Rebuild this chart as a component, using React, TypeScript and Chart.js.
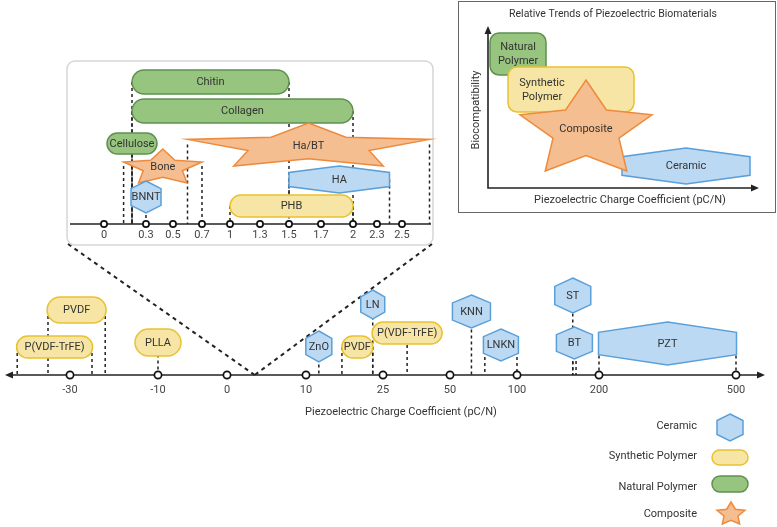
import React, { useEffect, useRef } from "react";
import { Chart, registerables } from "chart.js";

Chart.register(...registerables);

// ---------------- DATA ----------------
// Main axis (piezoelectric charge coefficient, pC/N)
const mainTickValues = [-30, -10, 0, 10, 25, 50, 100, 200, 500];
const mainTickLabels = ["-30", "-10", "0", "10", "25", "50", "100", "200", "500"];
const mainAxisTitle = "Piezoelectric Charge Coefficient (pC/N)";

const mainNames = ["P(VDF-TrFE)", "PVDF", "PLLA", "ZnO", "PVDF", "LN", "P(VDF-TrFE)", "KNN", "LNKN", "ST", "BT", "PZT"];
const mainTypes = ["synthetic", "synthetic", "synthetic", "ceramic", "synthetic", "ceramic", "synthetic", "ceramic", "ceramic", "ceramic", "ceramic", "ceramic"];
const mainLow = [-42, -35, -10, 12.5, 17, 23, 34, 66, 76, 168, 168, 200];
const mainHigh = [-25, -22, -10, 12.5, 23, 23, 34, 66, 100, 168, 172, 500];

// Zoomed inset (0 .. ~3 pC/N)
const insetTickValues = [0, 0.3, 0.5, 0.7, 1, 1.3, 1.5, 1.7, 2, 2.3, 2.5];
const insetTickLabels = ["0", "0.3", "0.5", "0.7", "1", "1.3", "1.5", "1.7", "2", "2.3", "2.5"];
const insetNames = ["Chitin", "Collagen", "Cellulose", "Ha/BT", "Bone", "HA", "BNNT", "PHB"];
const insetTypes = ["natural", "natural", "natural", "composite", "composite", "ceramic", "ceramic", "synthetic"];
const insetLow = [0.2, 0.2, 0.2, 0.6, 0.14, 1.5, 0.3, 1];
const insetHigh = [1.5, 2, 0.2, 2.72, 0.7, 2.4, 0.3, 2];
const insetZoomEnd = 3.5; // where the zoom funnel meets the main axis

// Legend
const legendTypes = ["ceramic", "synthetic", "natural", "composite"];
const legendLabels = ["Ceramic", "Synthetic Polymer", "Natural Polymer", "Composite"];

// Relative trends panel
const trendTitle = "Relative Trends of Piezoelectric Biomaterials";
const trendXTitle = "Piezoelectric Charge Coefficient (pC/N)";
const trendYTitle = "Biocompatibility";
const trendTypes = ["natural", "synthetic", "ceramic", "composite"];
const trendLabels = [["Natural", "Polymer"], ["Synthetic", "Polymer"], ["Ceramic"], ["Composite"]];

// ---------------- LAYOUT (stage units) ----------------
const STAGE_W = 777;
const STAGE_H = 527;
const mainAxisLayout = { y: 375, x0: 5, x1: 765, labelY: 390, titleY: 412, titleX: 401 };
const mainTickPos = [70, 158, 227, 306, 383, 450, 517, 599, 736];
const mainRows = [[336, 358], [297, 323], [329, 356], [331, 362], [336, 358], [290, 319], [322, 344], [295, 328], [329, 361], [278, 313], [327, 359], [322, 365]];
const mainMinW = [76, 59, 46, 26, 31, 24, 70, 38, 35, 36, 36, 138];

const insetBox = { x0: 67, y0: 61, x1: 433, y1: 245, axisY: 224, ax0: 70, ax1: 431, labelY: 235 };
const insetTickPos = [104, 146, 173, 202, 230, 260, 289, 321, 353, 377, 402];
const insetRows = [[70, 94], [99, 123], [133, 154], [123, 166], [149, 183], [166, 193], [181, 213], [195, 217]];
const insetMinW = [0, 0, 50, 0, 0, 0, 30, 0];

const trendBox = { x0: 458.5, y0: 1.5, x1: 775.5, y1: 212.5, ox: 488, oy: 188, yTop: 26, xRight: 759 };
const trendShapes = [[490, 33, 546, 75], [508, 67, 634, 112], [622, 148, 750, 184], [520, 80, 652, 171]];
const trendText = [[518, 47], [542, 83], [686, 166], [586, 129]];

const legendTextX = 697;
const legendRowsY = [426, 456, 487, 514];
const legendShapes = [[717, 414, 743, 441], [712, 450, 748, 465], [712, 476, 748, 492], [717, 502, 745, 524]];

const STYLE: Record<string, { fill: string; stroke: string; shape: string }> = {
  ceramic: { fill: "#bcd9f3", stroke: "#5b9fd8", shape: "hex" },
  synthetic: { fill: "#f6e5a5", stroke: "#e8c233", shape: "pill" },
  natural: { fill: "#97c47f", stroke: "#5e9150", shape: "pill" },
  composite: { fill: "#f5be91", stroke: "#ee8a3c", shape: "star" },
};
const FONT = "Roboto, 'Noto Sans', sans-serif";
const TEXT = "#333333";

function interp(v: number, vals: number[], pos: number[]): number {
  const n = vals.length;
  if (v <= vals[0]) return pos[0] + (v - vals[0]) * (pos[1] - pos[0]) / (vals[1] - vals[0]);
  if (v >= vals[n - 1]) return pos[n - 1] + (v - vals[n - 1]) * (pos[n - 1] - pos[n - 2]) / (vals[n - 1] - vals[n - 2]);
  for (let i = 0; i < n - 1; i++) {
    if (v <= vals[i + 1]) return pos[i] + (v - vals[i]) / (vals[i + 1] - vals[i]) * (pos[i + 1] - pos[i]);
  }
  return pos[n - 1];
}

function shapePath(ctx: CanvasRenderingContext2D, shape: string, x0: number, y0: number, x1: number, y1: number, radius?: number) {
  const w = x1 - x0, h = y1 - y0, cx = (x0 + x1) / 2;
  ctx.beginPath();
  if (shape === "pill" || shape === "rect") {
    const r = radius !== undefined ? radius : h / 2;
    (ctx as any).roundRect(x0, y0, w, h, Math.min(r, w / 2, h / 2));
  } else if (shape === "hex") {
    const s = h * 0.24;
    ctx.moveTo(cx, y0);
    ctx.lineTo(x1, y0 + s);
    ctx.lineTo(x1, y1 - s);
    ctx.lineTo(cx, y1);
    ctx.lineTo(x0, y1 - s);
    ctx.lineTo(x0, y0 + s);
    ctx.closePath();
  } else {
    const inner = 0.5;
    for (let i = 0; i < 10; i++) {
      const a = -Math.PI / 2 + i * Math.PI / 5;
      const r = i % 2 === 0 ? 1 : inner;
      const px = r * Math.cos(a), py = r * Math.sin(a);
      const X = x0 + (px + 0.9511) / 1.9022 * w;
      const Y = y0 + (py + 1) / 1.809 * h;
      if (i === 0) ctx.moveTo(X, Y); else ctx.lineTo(X, Y);
    }
    ctx.closePath();
  }
}

function drawShape(ctx: CanvasRenderingContext2D, type: string, x0: number, y0: number, x1: number, y1: number, radius?: number) {
  const st = STYLE[type];
  const shape = radius !== undefined && st.shape === "pill" ? "rect" : st.shape;
  shapePath(ctx, shape, x0, y0, x1, y1, radius);
  ctx.fillStyle = st.fill;
  ctx.fill();
  ctx.lineWidth = 1.5;
  ctx.strokeStyle = st.stroke;
  ctx.lineJoin = "miter";
  ctx.stroke();
}

function text(ctx: CanvasRenderingContext2D, s: string, x: number, y: number, size = 11, align: CanvasTextAlign = "center", color = TEXT) {
  ctx.font = `${size}px ${FONT}`;
  ctx.fillStyle = color;
  ctx.textAlign = align;
  ctx.textBaseline = "middle";
  ctx.fillText(s, x, y);
}

function dashed(ctx: CanvasRenderingContext2D, xa: number, ya: number, xb: number, yb: number, dash = [3, 3], lw = 1.5) {
  ctx.save();
  ctx.setLineDash(dash);
  ctx.lineWidth = lw;
  ctx.strokeStyle = "#222";
  ctx.beginPath();
  ctx.moveTo(xa, ya);
  ctx.lineTo(xb, yb);
  ctx.stroke();
  ctx.restore();
}

function arrowHead(ctx: CanvasRenderingContext2D, x: number, y: number, dir: string) {
  ctx.beginPath();
  const L = 8, W = 3.5;
  if (dir === "left") { ctx.moveTo(x, y); ctx.lineTo(x + L, y - W); ctx.lineTo(x + L, y + W); }
  if (dir === "right") { ctx.moveTo(x, y); ctx.lineTo(x - L, y - W); ctx.lineTo(x - L, y + W); }
  if (dir === "up") { ctx.moveTo(x, y); ctx.lineTo(x - W, y + L); ctx.lineTo(x + W, y + L); }
  ctx.closePath();
  ctx.fillStyle = "#222";
  ctx.fill();
}

function tickCircle(ctx: CanvasRenderingContext2D, x: number, y: number, r: number) {
  ctx.beginPath();
  ctx.arc(x, y, r, 0, Math.PI * 2);
  ctx.fillStyle = "#fff";
  ctx.fill();
  ctx.lineWidth = 1.7;
  ctx.strokeStyle = "#111";
  ctx.stroke();
}

const diagramPlugin = {
  id: "diagram",
  afterDraw(chart: any) {
    const ctx: CanvasRenderingContext2D = chart.ctx;
    const sx = chart.scales.x, sy = chart.scales.y;
    const X = (v: number) => sx.getPixelForValue(v);
    const Y = (v: number) => sy.getPixelForValue(v);
    const mainX = (v: number) => X(interp(v, mainTickValues, mainTickPos));
    const insetX = (v: number) => X(interp(v, insetTickValues, insetTickPos));
    ctx.save();

    // background
    ctx.fillStyle = "#fff";
    ctx.fillRect(0, 0, chart.width, chart.height);

    // ---- zoom funnel ----
    const meetX = mainX(insetZoomEnd);
    dashed(ctx, X(insetBox.x0 + 1), Y(insetBox.y1 - 1), meetX, Y(mainAxisLayout.y), [4, 4], 2);
    dashed(ctx, X(insetBox.x1 - 1), Y(insetBox.y1 - 1), meetX, Y(mainAxisLayout.y), [4, 4], 2);

    // ---- inset box ----
    ctx.beginPath();
    (ctx as any).roundRect(X(insetBox.x0), Y(insetBox.y0), X(insetBox.x1) - X(insetBox.x0), Y(insetBox.y1) - Y(insetBox.y0), 8);
    ctx.fillStyle = "#fff";
    ctx.fill();
    ctx.lineWidth = 1.5;
    ctx.strokeStyle = "#d6d6d6";
    ctx.stroke();

    // ---- leaders (main) ----
    mainNames.forEach((_, i) => {
      const [t, b] = mainRows[i];
      const mid = (t + b) / 2;
      const xs = mainLow[i] === mainHigh[i] ? [mainLow[i]] : [mainLow[i], mainHigh[i]];
      xs.forEach((v) => dashed(ctx, mainX(v), Y(mid), mainX(v), Y(mainAxisLayout.y)));
    });
    // ---- leaders (inset) ----
    insetNames.forEach((_, i) => {
      const [t, b] = insetRows[i];
      const mid = (t + b) / 2;
      const xs = insetLow[i] === insetHigh[i] ? [insetLow[i]] : [insetLow[i], insetHigh[i]];
      xs.forEach((v) => dashed(ctx, insetX(v), Y(mid), insetX(v), Y(insetBox.axisY)));
    });

    // ---- main axis ----
    ctx.lineWidth = 1.6;
    ctx.strokeStyle = "#222";
    ctx.beginPath();
    ctx.moveTo(X(mainAxisLayout.x0 + 4), Y(mainAxisLayout.y));
    ctx.lineTo(X(mainAxisLayout.x1 - 4), Y(mainAxisLayout.y));
    ctx.stroke();
    arrowHead(ctx, X(mainAxisLayout.x0), Y(mainAxisLayout.y), "left");
    arrowHead(ctx, X(mainAxisLayout.x1), Y(mainAxisLayout.y), "right");

    // ---- inset axis ----
    ctx.lineWidth = 1.6;
    ctx.strokeStyle = "#222";
    ctx.beginPath();
    ctx.moveTo(X(insetBox.ax0), Y(insetBox.axisY));
    ctx.lineTo(X(insetBox.ax1), Y(insetBox.axisY));
    ctx.stroke();

    // ---- shapes (main) ----
    mainNames.forEach((name, i) => {
      const [t, b] = mainRows[i];
      let xa = mainX(mainLow[i]), xb = mainX(mainHigh[i]);
      if (xb - xa < mainMinW[i]) {
        const c = (xa + xb) / 2;
        xa = c - mainMinW[i] / 2; xb = c + mainMinW[i] / 2;
      }
      drawShape(ctx, mainTypes[i], xa, Y(t), xb, Y(b));
      text(ctx, name, (xa + xb) / 2, Y((t + b) / 2) + 0.5);
    });

    // ---- shapes (inset) ----
    insetNames.forEach((name, i) => {
      const [t, b] = insetRows[i];
      let xa = insetX(insetLow[i]), xb = insetX(insetHigh[i]);
      if (xb - xa < insetMinW[i]) {
        const c = (xa + xb) / 2;
        xa = c - insetMinW[i] / 2; xb = c + insetMinW[i] / 2;
      }
      drawShape(ctx, insetTypes[i], xa, Y(t), xb, Y(b));
      const ty = insetTypes[i] === "composite" ? Y(t + (b - t) * 0.55) : Y((t + b) / 2) + 0.5;
      text(ctx, name, (xa + xb) / 2, ty);
    });

    // ---- ticks ----
    mainTickValues.forEach((v, i) => {
      tickCircle(ctx, mainX(v), Y(mainAxisLayout.y), 3.6);
      text(ctx, mainTickLabels[i], mainX(v), Y(mainAxisLayout.labelY), 11, "center", "#444");
    });
    insetTickValues.forEach((v, i) => {
      tickCircle(ctx, insetX(v), Y(insetBox.axisY), 3.1);
      text(ctx, insetTickLabels[i], insetX(v), Y(insetBox.labelY), 11, "center", "#444");
    });
    text(ctx, mainAxisTitle, X(mainAxisLayout.titleX), Y(mainAxisLayout.titleY), 11);

    // ---- trends panel ----
    ctx.lineWidth = 1;
    ctx.strokeStyle = "#666";
    ctx.strokeRect(X(trendBox.x0), Y(trendBox.y0), X(trendBox.x1) - X(trendBox.x0), Y(trendBox.y1) - Y(trendBox.y0));
    text(ctx, trendTitle, X((trendBox.x0 + trendBox.x1) / 2 - 4), Y(14), 10.5);
    trendTypes.forEach((tp, i) => {
      const [a, b, c, d] = trendShapes[i];
      drawShape(ctx, tp, X(a), Y(b), X(c), Y(d), 9);
      const lines = trendLabels[i];
      const [tx, ty] = trendText[i];
      lines.forEach((ln, k) => text(ctx, ln, X(tx), Y(ty + k * 14), 11));
    });
    ctx.lineWidth = 1.6;
    ctx.strokeStyle = "#222";
    ctx.beginPath();
    ctx.moveTo(X(trendBox.ox), Y(trendBox.yTop + 6));
    ctx.lineTo(X(trendBox.ox), Y(trendBox.oy));
    ctx.lineTo(X(trendBox.xRight - 6), Y(trendBox.oy));
    ctx.stroke();
    arrowHead(ctx, X(trendBox.ox), Y(trendBox.yTop), "up");
    arrowHead(ctx, X(trendBox.xRight), Y(trendBox.oy), "right");
    text(ctx, trendXTitle, X(630), Y(200), 11);
    ctx.save();
    ctx.translate(X(476), Y(110));
    ctx.rotate(-Math.PI / 2);
    text(ctx, trendYTitle, 0, 0, 11);
    ctx.restore();

    // ---- legend ----
    legendTypes.forEach((tp, i) => {
      const [a, b, c, d] = legendShapes[i];
      drawShape(ctx, tp, X(a), Y(b), X(c), Y(d));
      text(ctx, legendLabels[i], X(legendTextX), Y(legendRowsY[i]), 11, "right");
    });

    ctx.restore();
  },
};

export default function App() {
  const ref = useRef<HTMLCanvasElement | null>(null);
  useEffect(() => {
    document.body.style.margin = "0";
    const canvas = ref.current;
    if (!canvas) return;
    const chart = new Chart(canvas, {
      type: "scatter",
      data: { datasets: [{ data: [], showLine: false }] },
      options: {
        animation: false,
        responsive: false,
        maintainAspectRatio: false,
        devicePixelRatio: 1,
        layout: { padding: 0 },
        events: [],
        plugins: { legend: { display: false }, tooltip: { enabled: false }, title: { display: false } },
        scales: {
          x: { type: "linear", display: false, min: 0, max: STAGE_W },
          y: { type: "linear", display: false, min: 0, max: STAGE_H, reverse: true },
        },
      },
      plugins: [diagramPlugin],
    });
    return () => chart.destroy();
  }, []);
  return (
    <div style={{ width: STAGE_W, height: STAGE_H }}>
      <canvas ref={ref} width={STAGE_W} height={STAGE_H} style={{ display: "block", width: STAGE_W, height: STAGE_H }} />
    </div>
  );
}
